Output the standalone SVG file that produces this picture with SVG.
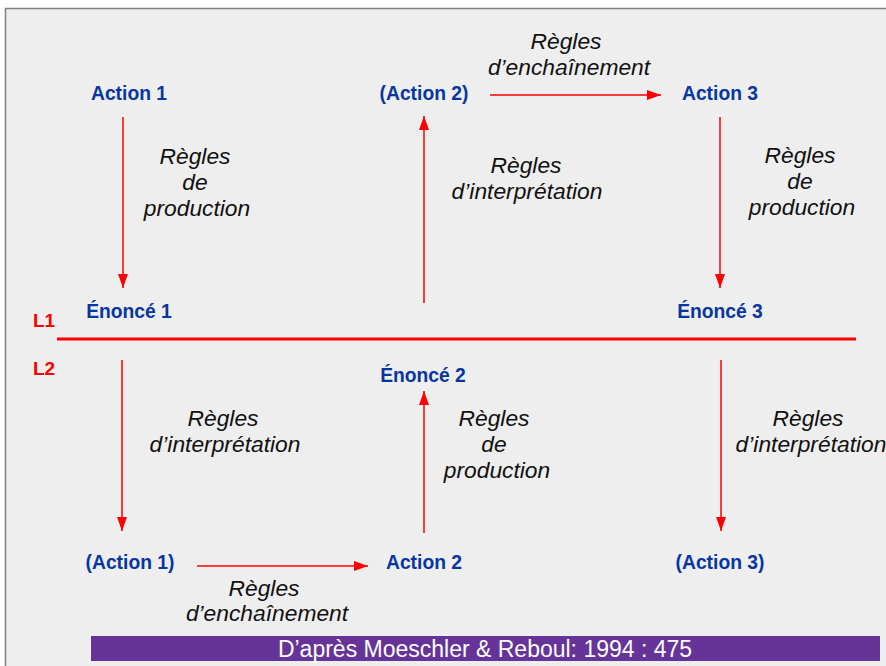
<svg xmlns="http://www.w3.org/2000/svg" width="886" height="666" viewBox="0 0 886 666">
<defs>
<marker id="ah" viewBox="0 0 14 10" refX="14" refY="5" markerWidth="14" markerHeight="10" markerUnits="userSpaceOnUse" orient="auto">
<path d="M0,0 L14,5 L0,10 Z" fill="#ff0000"/>
</marker>
</defs>
<style>
.n{font-family:"Liberation Sans",Arial,sans-serif;font-weight:bold;font-size:19.3px;fill:#0636a0;text-anchor:middle}
.l{font-family:"Liberation Sans",Arial,sans-serif;font-style:italic;font-size:22.8px;fill:#111;text-anchor:middle}
.lv{font-family:"Liberation Sans",Arial,sans-serif;font-weight:bold;font-size:19px;fill:#ff0000}
.c{stroke:#ff0000;stroke-width:1.5;fill:none;marker-end:url(#ah)}
</style>
<rect x="0" y="0" width="886" height="666" fill="#ffffff"/>
<rect x="5.5" y="8.5" width="900" height="700" fill="#eeeeee" stroke="#808080" stroke-width="1.5"/>

<g id="connectors">
<line class="c" x1="123" y1="117" x2="123" y2="288"/>
<line class="c" x1="424" y1="303" x2="424" y2="116"/>
<line class="c" x1="490" y1="95" x2="661" y2="95"/>
<line class="c" x1="720" y1="117" x2="720" y2="288"/>
<line class="c" x1="122" y1="360" x2="122" y2="531"/>
<line class="c" x1="424" y1="533" x2="424" y2="391"/>
<line class="c" x1="721" y1="360" x2="721" y2="531"/>
<line class="c" x1="197" y1="566" x2="368" y2="566"/>
</g>

<g id="level-line">
<line x1="57" y1="339" x2="856" y2="339" stroke="#ff0000" stroke-width="3"/>
<text class="lv" x="33" y="327">L1</text>
<text class="lv" x="33" y="375">L2</text>
</g>

<g id="action1"><text class="n" x="129" y="100">Action 1</text></g>
<g id="action2p"><text class="n" x="424" y="100">(Action 2)</text></g>
<g id="action3"><text class="n" x="720" y="100">Action 3</text></g>
<g id="enonce1"><text class="n" x="129" y="318">Énoncé 1</text></g>
<g id="enonce3"><text class="n" x="720" y="318">Énoncé 3</text></g>
<g id="enonce2"><text class="n" x="423" y="382">Énoncé 2</text></g>
<g id="action1p"><text class="n" x="130" y="569">(Action 1)</text></g>
<g id="action2"><text class="n" x="424" y="569">Action 2</text></g>
<g id="action3p"><text class="n" x="720" y="569">(Action 3)</text></g>

<g id="labels">
<text class="l" x="566" y="49">Règles</text>
<text class="l" x="569" y="75">d’enchaînement</text>
<text class="l" x="195" y="164">Règles</text>
<text class="l" x="195" y="190">de</text>
<text class="l" x="197" y="216">production</text>
<text class="l" x="526" y="173">Règles</text>
<text class="l" x="527" y="199">d’interprétation</text>
<text class="l" x="800" y="163">Règles</text>
<text class="l" x="800" y="189">de</text>
<text class="l" x="802" y="215">production</text>
<text class="l" x="223" y="426">Règles</text>
<text class="l" x="225" y="452">d’interprétation</text>
<text class="l" x="494" y="426">Règles</text>
<text class="l" x="494" y="452">de</text>
<text class="l" x="497" y="478">production</text>
<text class="l" x="808" y="426">Règles</text>
<text class="l" x="811" y="452">d’interprétation</text>
<text class="l" x="264" y="596">Règles</text>
<text class="l" x="267" y="621">d’enchaînement</text>
</g>

<g id="footer">
<rect x="91" y="636" width="789" height="25" fill="#663399"/>
<text x="485" y="657" font-family="'Liberation Sans',Arial,sans-serif" font-size="23" fill="#ffffff" text-anchor="middle">D’après Moeschler &amp; Reboul: 1994 : 475</text>
</g>
</svg>
